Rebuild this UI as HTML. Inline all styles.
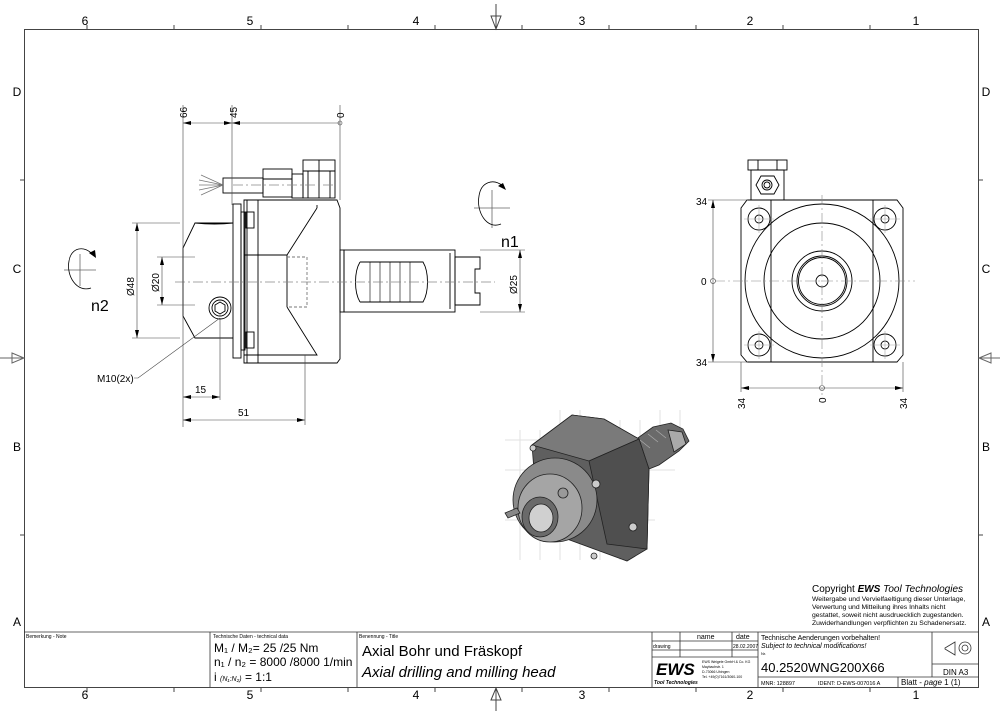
<!DOCTYPE html>
<html><head><meta charset="utf-8"><style>
body{margin:0;background:#fff}
svg{display:block}
text{font-family:"Liberation Sans",sans-serif;fill:#000}
.n{font-family:"Liberation Sans Narrow","Liberation Sans",sans-serif}
</style></head><body>
<svg width="1000" height="715" viewBox="0 0 1000 715" xmlns="http://www.w3.org/2000/svg">
<g fill="none" stroke="#444" stroke-width="1">
<rect x="24.5" y="29.5" width="954" height="658"/>
<path d="M87 25v4M174 25v4M261 25v4M348 25v4M435 25v4M522 25v4M609 25v4M696 25v4M783 25v4M870 25v4"/>
<path d="M87 688v4M174 688v4M261 688v4M348 688v4M435 688v4M522 688v4M609 688v4M696 688v4M783 688v4M870 688v4"/>
<path d="M20 180h4M20 358h4M20 535h4M979 180h4M979 358h4M979 535h4"/>
<path d="M496 4v25M491 16l5 13l5-13z"/>
<path d="M496 711v-23M491 700l5-12l5 12z"/>
<path d="M0 358h24M12 353l12 5l-12 5z" stroke="#666"/>
<path d="M1000 358h-21M991 353l-12 5l12 5z" stroke="#666"/>
</g>
<g font-size="12" fill="#333" text-anchor="middle">
<text x="85" y="25">6</text><text x="250" y="25">5</text><text x="416" y="25">4</text><text x="582" y="25">3</text><text x="750" y="25">2</text><text x="916" y="25">1</text>
<text x="85" y="699">6</text><text x="250" y="699">5</text><text x="416" y="699">4</text><text x="582" y="699">3</text><text x="750" y="699">2</text><text x="916" y="699">1</text>
<text x="17" y="96">D</text><text x="17" y="273">C</text><text x="17" y="451">B</text><text x="17" y="626">A</text>
<text x="986" y="96">D</text><text x="986" y="273">C</text><text x="986" y="451">B</text><text x="986" y="626">A</text>
</g>

<!-- title block -->
<g fill="none" stroke="#333" stroke-width="0.8">
<line x1="24" y1="632" x2="979" y2="632"/>
<path d="M210 632v55M357 632v55M652 632v55M758 632v55"/>
<path d="M652 641h106M652 650h106M652 657h106M680 632v25M732 632v25"/>
<path d="M758 677h221M932 632v45M932 664h47M898 677v10"/>
<path d="M945 648l10-6v13l-10-6z"/>
<circle cx="965" cy="648" r="6"/><circle cx="965" cy="648" r="3"/>
</g>
<g class="n">
<text x="26" y="638" font-size="5">Bemerkung - Note</text>
<text x="213" y="638" font-size="5">Technische Daten - technical data</text>
<text x="359" y="638" font-size="5">Benennung - Title</text>
<text x="214" y="652" font-size="12">M₁ / M₂= 25  /25  Nm</text>
<text x="214" y="666" font-size="12">n₁ / n₂ = 8000 /8000  1/min</text>
<text x="214" y="681" font-size="12">i  <tspan font-size="7" font-style="italic">(N₁:N₂)</tspan> = 1:1</text>
<text x="362" y="656" font-size="15">Axial Bohr und Fräskopf</text>
<text x="362" y="677" font-size="15" font-style="italic">Axial drilling and milling head</text>
<text x="697" y="639" font-size="7">name</text>
<text x="736" y="639" font-size="7">date</text>
<text x="653" y="648" font-size="5">drawing</text>
<text x="733" y="648" font-size="5">28.02.2007</text>
<text x="656" y="675" font-size="17" font-weight="bold" font-style="italic">EWS</text>
<text x="654" y="684" font-size="5" font-weight="bold" font-style="italic">Tool Technologies</text>
<text x="702" y="663" font-size="3.5">EWS Weigele GmbH &amp; Co. KG</text>
<text x="702" y="668" font-size="3.5">Maybachstr. 1</text>
<text x="702" y="673" font-size="3.5">D-73066 Uhingen</text>
<text x="702" y="678" font-size="3.5">Tel. +49(0)7161/3060-100</text>
<text x="761" y="640" font-size="7">Technische Aenderungen vorbehalten!</text>
<text x="761" y="648" font-size="7" font-style="italic">Subject to technical modifications!</text>
<text x="761" y="655" font-size="4">Nr.</text>
<text x="761" y="672" font-size="13">40.2520WNG200X66</text>
<text x="943" y="675" font-size="8">DIN A3</text>
<text x="761" y="685" font-size="5.5">MNR: 128897</text>
<text x="818" y="685" font-size="5.5">IDENT: D-EWS-007016 A</text>
<text x="901" y="685" font-size="8">Blatt - <tspan font-style="italic">page</tspan>  1 (1)</text>
</g>

<!-- copyright -->
<text x="812" y="592" font-size="10">Copyright <tspan font-weight="bold" font-style="italic">EWS</tspan> <tspan font-style="italic">Tool Technologies</tspan></text>
<g font-size="6.8">
<text x="812" y="601">Weitergabe und Vervielfaeltigung dieser Unterlage,</text>
<text x="812" y="609">Verwertung und Mitteilung ihres Inhalts nicht</text>
<text x="812" y="617">gestattet, soweit nicht ausdruecklich zugestanden.</text>
<text x="812" y="625">Zuwiderhandlungen verpflichten zu Schadenersatz.</text>
</g>

<!-- SIDE VIEW -->
<g fill="none" stroke="#000" stroke-width="0.9">
<rect x="223" y="178" width="40" height="15"/>
<rect x="263" y="169" width="29" height="28"/><line x1="263" y1="179" x2="292" y2="179"/>
<rect x="292" y="174" width="11" height="24"/>
<rect x="303" y="160" width="32" height="11"/><line x1="319" y1="160" x2="319" y2="171"/>
<rect x="303" y="171" width="32" height="27"/><path d="M308 171v27M319 171v27M330 171v27"/>
<path d="M223 185l-22-10M223 185l-24-5M223 185l-24 0M223 185l-24 5M223 185l-22 10" stroke="#777" stroke-width="0.7"/>
<rect x="233" y="204" width="8" height="154"/>
<rect x="241" y="212" width="4" height="138"/>
<path d="M244 200h93l3 8v151l-3 4h-93z"/>
<path d="M247 200v163M258 200v163"/>
<rect x="246" y="212" width="8" height="16"/><rect x="246" y="332" width="8" height="16"/>
<path d="M317 208l-30 47h-43M287 255v52M287 307l30 48h-73M317 208v-3"/>
<path d="M287 257h20v50h-20" stroke-dasharray="3 2" stroke="#777"/>
<path d="M233 223h-38l-12 25v68l12 22h38"/>
<path d="M195 223q20 2 38 0" />
<rect x="340" y="250" width="4" height="62"/>
<rect x="344" y="250" width="111" height="62"/>
<path d="M450 253v56"/>
<path d="M360 262c-6 10-6 30 0 40M360 262h63c6 10 6 30 0 40h-63" />
<path d="M370 262v40M380 262v40M390 262v40M400 262v40M410 262v40" stroke-width="0.6"/>
<path d="M455 257h25v12h-5v24h5v12h-25z"/>
<circle cx="220" cy="308" r="11"/><circle cx="220" cy="308" r="8"/>
<path d="M215 305l5-3l5 3v6l-5 3l-5-3z"/>
</g>
<g stroke="#888" stroke-width="0.7" fill="none" stroke-dasharray="10 3 2 3">
<line x1="175" y1="282" x2="495" y2="282"/>
<line x1="233" y1="185" x2="335" y2="185"/>
</g>
<g stroke="#444" stroke-width="0.6" fill="none">
<path d="M183 105v322M232 105v100M340 105v95M305 355v70M220 318v82"/>
<path d="M183 123h157M183 397h37M183 420h122"/>
<circle cx="340" cy="123" r="2"/>
<path d="M180 223h-48M180 338h-48M137 223v115M195 257h-38M195 305h-38M162 257v48M480 250h45M480 312h45M520 250v62"/>
<path d="M220 318l-82 60h-4"/>
</g>
<g fill="#000" stroke="none">
<path d="M232 123l8-2v4z"/><path d="M183 123l8-2v4z"/><path d="M232 123l-8-2v4z"/>
<path d="M183 397l8-2v4zM220 397l-8-2v4zM183 420l8-2v4zM305 420l-8-2v4z"/>
<path d="M137 223l-2 8h4zM137 338l-2-8h4zM162 257l-2 8h4zM162 305l-2-8h4zM520 250l-2 8h4zM520 312l-2-8h4z"/>
</g>
<g font-size="10" class="n">
<text transform="translate(187,118) rotate(-90)">66</text>
<text transform="translate(237,118) rotate(-90)">45</text>
<text transform="translate(344,118) rotate(-90)">0</text>
<text x="195" y="393">15</text>
<text x="238" y="416">51</text>
<text transform="translate(134,296) rotate(-90)">Ø48</text>
<text transform="translate(159,292) rotate(-90)">Ø20</text>
<text transform="translate(517,294) rotate(-90)">Ø25</text>
<text x="97" y="382">M10(2x)</text>
</g>
<g fill="none" stroke="#000" stroke-width="0.8">
<path d="M64 270h32M80 254v32" stroke="#666"/>
<path d="M93 255c-8-10-22-8-24 6c-3 15 8 32 22 27"/>
<path d="M474 208h36M492 190v38" stroke="#666"/>
<path d="M503 186c-10-8-22-4-24 10c-3 16 8 34 22 28"/>
</g>
<path d="M89 253l7 5l-1-8z"/><path d="M498 186l8 4l-3-7z"/>
<text x="91" y="311" font-size="16">n2</text>
<text x="501" y="247" font-size="16">n1</text>

<!-- FRONT VIEW -->
<g fill="none" stroke="#000" stroke-width="0.9">
<rect x="748" y="160" width="39" height="10"/><path d="M758 160v10M777 160v10"/>
<path d="M751 170h33v30h-33z"/>
<path d="M761 176h13l5 9l-5 9h-13l-5-9z"/>
<circle cx="767" cy="185" r="5"/><circle cx="767" cy="185" r="3"/>
<path d="M747 200h150l6 8v147l-6 7h-150l-6-7v-147z"/>
<path d="M771 200v162M873 200v162"/>
<circle cx="822" cy="281" r="77"/>
<circle cx="822" cy="281" r="58"/>
<circle cx="822" cy="281" r="30"/>
<circle cx="822" cy="281" r="25"/><circle cx="822" cy="281" r="23.5"/>
<circle cx="822" cy="281" r="6"/>
<g fill="#fff">
<circle cx="759" cy="219" r="11"/><circle cx="885" cy="219" r="11"/>
<circle cx="759" cy="345" r="11"/><circle cx="885" cy="345" r="11"/>
</g>
<circle cx="759" cy="219" r="4"/><circle cx="885" cy="219" r="4"/>
<circle cx="759" cy="345" r="4"/><circle cx="885" cy="345" r="4"/>
</g>
<g stroke="#888" stroke-width="0.6" fill="none" stroke-dasharray="10 3 2 3">
<path d="M715 281h200M822 195v200"/>
<path d="M744 219h30M744 345h30M870 219h30M870 345h30M759 205v28M885 205v28M759 331v28M885 331v28" stroke-dasharray="none" stroke="#aaa"/>
</g>
<g stroke="#444" stroke-width="0.6" fill="none">
<path d="M708 200h40M708 362h40M713 200v162M741 362v30M903 362v30M741 388h162"/>
<circle cx="713" cy="281" r="2.5"/><circle cx="822" cy="388" r="2.5"/>
</g>
<g fill="#000"><path d="M713 200l-2 8h4zM713 362l-2-8h4zM741 388l8-2v4zM903 388l-8-2v4z"/></g>
<g font-size="10" class="n">
<text x="696" y="205">34</text><text x="701" y="285">0</text><text x="696" y="366">34</text>
<text transform="translate(745,409) rotate(-90)">34</text>
<text transform="translate(826,403) rotate(-90)">0</text>
<text transform="translate(907,409) rotate(-90)">34</text>
</g>

<!-- 3D VIEW -->
<g stroke="#e2e2e2" stroke-width="1" fill="none">
<path d="M520 430v130M540 430v130M560 410v150M580 410v150M600 420v140M620 420v140M640 420v100M660 410v40M680 410v30M505 470h170M505 520h150M505 440h50"/>
</g>
<g stroke="#222" stroke-width="0.8">
<path d="M628 445l25-18l18-4l12 6l6 12l-10 10l-20 14l-25 10z" fill="#6a6a6a"/>
<path d="M640 440l10 8M648 434l10 8M656 430l10 8" stroke="#aaa"/>
<path d="M668 430l14 2l4 12l-12 8z" fill="#aaa"/>
<path d="M532 445l40-30l32 4l35 20l10 30l-2 80l-20 12l-60-22l-30-30z" fill="#5f5f5f"/>
<path d="M532 445l40-30l32 4l35 20l-50 22z" fill="#7a7a7a"/>
<path d="M589 461l50-22l10 30l-2 80l-40 -5z" fill="#4f4f4f"/>
<ellipse cx="555" cy="500" rx="42" ry="42" fill="#8a8a8a"/>
<ellipse cx="550" cy="508" rx="32" ry="34" fill="#a5a5a5"/>
<ellipse cx="540" cy="517" rx="18" ry="20" fill="#6a6a6a"/>
<ellipse cx="541" cy="518" rx="12" ry="14" fill="#d0d0d0"/>
<circle cx="563" cy="493" r="5" fill="#999"/>
<path d="M505 513l12-5l3 5l-12 5z" fill="#888"/>
<circle cx="533" cy="448" r="3" fill="#ccc"/><circle cx="596" cy="484" r="4" fill="#ccc"/>
<circle cx="633" cy="527" r="4" fill="#ccc"/><circle cx="594" cy="556" r="3" fill="#ccc"/>
</g>
</svg>
</body></html>
